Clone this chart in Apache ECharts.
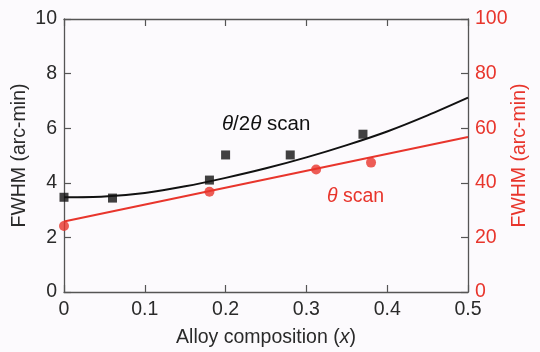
<!DOCTYPE html>
<html><head><meta charset="utf-8">
<script src="https://cdn.jsdelivr.net/npm/echarts@6/dist/echarts.min.js"></script>
<style>html,body{margin:0;padding:0;background:#fcfafd;}#c{width:540px;height:352px;}</style>
</head><body><div id="c"></div>
<script>
// Data
const theta2thetaX = [0, 0.06, 0.18, 0.2, 0.28, 0.37];
const theta2thetaY = [3.47, 3.44, 4.1, 5.02, 5.02, 5.78];
const thetaX = [0, 0.18, 0.312, 0.38];
const thetaY = [24.2, 36.7, 44.9, 47.4];
const fitBlackX = [0, 0.05, 0.1, 0.15, 0.2, 0.25, 0.3, 0.35, 0.4, 0.45, 0.5];
const fitBlackY = [3.47, 3.50, 3.63, 3.87, 4.18, 4.53, 4.93, 5.38, 5.88, 6.47, 7.12];
const fitRedX = [0, 0.5];
const fitRedY = [25.8, 56.8];
const xTicks = [0, 0.1, 0.2, 0.3, 0.4, 0.5];
const leftTicks = [0, 2, 4, 6, 8, 10];
const rightTicks = [0, 20, 40, 60, 80, 100];

const RED = '#e8352c';
const AX = '#555';
const FONT = 'Liberation Sans, Arial, sans-serif';
const FS = 19.5;
const pairs = (xs, ys) => xs.map((x, i) => [x, ys[i]]);

const chart = echarts.init(document.getElementById('c'), null, {renderer: 'canvas'});
const common = () => ({
  axisLine: {show: true, onZero: false, lineStyle: {color: AX, width: 1.3}},
  axisTick: {show: true, inside: true, length: 7, lineStyle: {color: AX, width: 1.2}},
  splitLine: {show: false},
  nameMoveOverlap: false
});
chart.setOption({
  backgroundColor: '#fcfafd',
  animation: false,
  grid: {left: 64, right: 72, top: 19, bottom: 60, containLabel: false, outerBoundsMode: 'none'},
  xAxis: [
    Object.assign(common(), {
      type: 'value', min: xTicks[0], max: xTicks[xTicks.length - 1], interval: 0.1,
      position: 'bottom',
      axisLabel: {color: '#2a2a2a', fontSize: FS, fontFamily: FONT, margin: 8,
        formatter: v => (Math.abs(v) < 1e-9 ? '0' : String(+v.toFixed(1)))},
      name: '{a|Alloy composition (}{i|x}{a|)}', nameLocation: 'middle', nameGap: 36,
      nameTextStyle: {rich: {
        a: {fontSize: FS, color: '#2a2a2a', fontFamily: FONT},
        i: {fontSize: FS, color: '#2a2a2a', fontFamily: FONT, fontStyle: 'italic'}
      }}
    }),
    Object.assign(common(), {
      type: 'value', min: 0, max: 0.5, interval: 0.1, position: 'top',
      axisLabel: {show: false}
    })
  ],
  yAxis: [
    Object.assign(common(), {
      type: 'value', min: leftTicks[0], max: leftTicks[leftTicks.length - 1], interval: 2,
      position: 'left',
      axisLabel: {color: '#2a2a2a', fontSize: FS, fontFamily: FONT, margin: 7},
      name: 'FWHM (arc-min)', nameLocation: 'middle', nameGap: 34, nameRotate: 90,
      nameTextStyle: {fontSize: FS, color: '#2a2a2a', fontFamily: FONT}
    }),
    Object.assign(common(), {
      type: 'value', min: rightTicks[0], max: rightTicks[rightTicks.length - 1], interval: 20,
      position: 'right',
      axisLabel: {color: RED, fontSize: FS, fontFamily: FONT, margin: 7},
      name: 'FWHM (arc-min)', nameLocation: 'middle', nameGap: 42, nameRotate: 90,
      nameTextStyle: {fontSize: FS, color: RED, fontFamily: FONT}
    })
  ],
  series: [
    {type: 'line', data: pairs(fitRedX, fitRedY), yAxisIndex: 1, showSymbol: false,
      lineStyle: {color: RED, width: 2}, z: 2},
    {type: 'line', data: pairs(fitBlackX, fitBlackY), smooth: 0.3, showSymbol: false,
      lineStyle: {color: '#111', width: 2}, z: 2},
    {type: 'scatter', data: pairs(theta2thetaX, theta2thetaY), symbol: 'rect', symbolSize: 9,
      itemStyle: {color: '#111'}, clip: false, z: 5},
    {type: 'scatter', data: pairs(thetaX, thetaY), yAxisIndex: 1, symbol: 'circle', symbolSize: 10,
      itemStyle: {color: RED}, clip: false, z: 5}
  ],
  graphic: [
    {type: 'text', left: 222, top: 114, style: {
      text: '{i|θ}{a|/2}{i|θ}{a| scan}',
      rich: {
        a: {fontSize: 20.5, fill: '#111', fontFamily: FONT},
        i: {fontSize: 20.5, fill: '#111', fontFamily: FONT, fontStyle: 'italic'}
      }}},
    {type: 'text', left: 327, top: 187, style: {
      text: '{i|θ}{a| scan}',
      rich: {
        a: {fontSize: FS, fill: RED, fontFamily: FONT},
        i: {fontSize: FS, fill: RED, fontFamily: FONT, fontStyle: 'italic'}
      }}}
  ]
});
</script></body></html>
